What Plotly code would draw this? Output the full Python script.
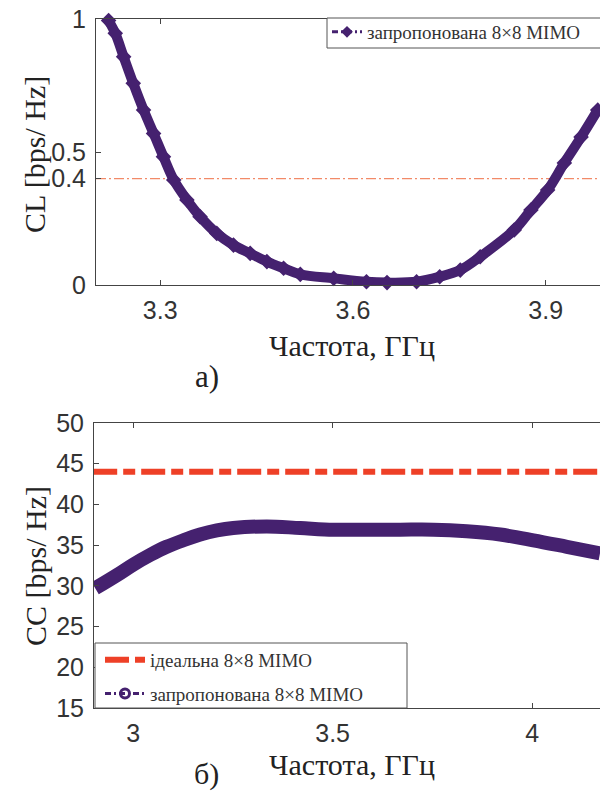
import plotly.graph_objects as go

# ---------------- data: panel а) CL ----------------
freq_cl = [3.2196, 3.230, 3.243, 3.258, 3.274, 3.2896, 3.305, 3.321, 3.3415, 3.362,
           3.388, 3.414, 3.440, 3.466, 3.492, 3.518, 3.570, 3.621, 3.653, 3.699,
           3.735, 3.767, 3.798, 3.851, 3.877, 3.903, 3.929, 3.955, 3.981]
cl_values = [0.994, 0.946, 0.858, 0.758, 0.658, 0.570, 0.482, 0.395, 0.320, 0.257,
             0.194, 0.150, 0.119, 0.088, 0.063, 0.040, 0.025, 0.012, 0.009, 0.012,
             0.031, 0.056, 0.106, 0.207, 0.282, 0.357, 0.459, 0.556, 0.658]
cl_threshold = 0.4
cl_xticks = [3.3, 3.6, 3.9]
cl_yticks = [0, 0.4, 0.5, 1]

# ---------------- data: panel б) CC ----------------
freq_cc = [2.905, 2.959, 3.0, 3.043, 3.084, 3.126, 3.168, 3.210, 3.251, 3.335,
           3.419, 3.502, 3.586, 3.669, 3.753, 3.836, 3.920, 4.003, 4.087, 4.170]
cc_values = [29.7, 31.3, 32.6, 33.8, 34.8, 35.6, 36.3, 36.8, 37.1, 37.3,
             37.1, 36.9, 36.9, 36.9, 36.9, 36.7, 36.3, 35.6, 34.8, 34.0]
ideal_freq = [2.90, 4.20]
ideal_cc = [44, 44]
cc_xticks = [3, 3.5, 4]
cc_yticks = [15, 20, 25, 30, 35, 40, 45, 50]

label_ideal = "ідеальна 8×8 MIMO"
label_prop = "запропонована 8×8 MIMO"

PURPLE = "#45216f"
RED = "#ee4027"
ORANGE = "#f28a68"
AXC = "#444444"
SERIF = "Liberation Serif, Times New Roman, serif"
SANS = "Liberation Sans, Arial, sans-serif"

W, H = 600, 793
def py(px):
    return 1 - px / H

fig = go.Figure()

# panel а)
fig.add_trace(go.Scatter(
    x=freq_cl, y=cl_values, mode="lines+markers", xaxis="x", yaxis="y",
    line=dict(color=PURPLE, width=10, shape="spline"),
    marker=dict(symbol="diamond", size=12, color=PURPLE),
    cliponaxis=False, showlegend=False))
fig.add_trace(go.Scatter(
    x=[None], y=[None], mode="lines+markers", xaxis="x", yaxis="y",
    name=label_prop, legend="legend",
    line=dict(color=PURPLE, width=3, dash="6px,3px,2px,3px"),
    marker=dict(symbol="diamond", size=9, color=PURPLE)))

# panel б)
fig.add_trace(go.Scatter(
    x=ideal_freq, y=ideal_cc, mode="lines", xaxis="x2", yaxis="y2",
    line=dict(color=RED, width=6, dash="24px,6px,12px,6px"),
    name=label_ideal, legend="legend2", legendgroup="a"))
fig.add_trace(go.Scatter(
    x=freq_cc, y=cc_values, mode="lines", xaxis="x2", yaxis="y2",
    line=dict(color=PURPLE, width=14, shape="spline"),
    showlegend=False))
fig.add_trace(go.Scatter(
    x=[None], y=[None], mode="lines+markers", xaxis="x2", yaxis="y2",
    name=label_prop, legend="legend2", legendgroup="b",
    line=dict(color=PURPLE, width=3, dash="6px,3px,2px,3px"),
    marker=dict(symbol="circle-open", size=9, color=PURPLE, line=dict(width=3))))

fig.add_hline(y=cl_threshold, xref="x", yref="y", layer="below",
              line=dict(color=ORANGE, width=1.3, dash="10px,3px,2px,3px"))

# legend frames (boxes as in the reference)
fig.add_shape(type="rect", xref="paper", yref="paper",
              x0=327 / W, x1=602 / W, y0=py(48), y1=py(18), layer="above",
              line=dict(color="#555555", width=1), fillcolor="white")
fig.add_shape(type="rect", xref="paper", yref="paper",
              x0=95 / W, x1=407 / W, y0=py(708), y1=py(643), layer="above",
              line=dict(color="#555555", width=1), fillcolor="white")

axis_common = dict(showline=True, linecolor=AXC, linewidth=1, ticks="inside",
                   ticklen=5, tickcolor=AXC, showgrid=False, zeroline=False,
                   automargin=False,
                   tickfont=dict(family=SANS, size=25, color="#333333"))

fig.update_layout(
    template="none",
    width=W, height=H, margin=dict(l=0, r=0, t=0, b=0, pad=0), autosize=False,
    paper_bgcolor="white", plot_bgcolor="white",
    xaxis=dict(domain=[96 / W, 1.0], range=[3.2, 3.9845], tickvals=cl_xticks,
               ticktext=["3.3", "3.6", "3.9"], mirror="ticks", anchor="y",
               ticklabelstandoff=3, **axis_common),
    yaxis=dict(domain=[py(285), py(19)], range=[0, 1], tickvals=cl_yticks,
               ticktext=["0", "0.4", "0.5", "1"], anchor="x", mirror=False,
               ticklabelstandoff=4, **axis_common),
    xaxis2=dict(domain=[94 / W, 1.0], range=[2.902, 4.17], tickvals=cc_xticks,
                ticktext=["3", "3.5", "4"], mirror="ticks", anchor="y2",
                ticklabelstandoff=3, **axis_common),
    yaxis2=dict(domain=[py(708), py(423)], range=[15, 50], tickvals=cc_yticks,
                anchor="x2", mirror=False, ticklabelstandoff=4, **axis_common),
    legend=dict(x=327 / W, y=py(32), xanchor="left", yanchor="middle",
                bgcolor="rgba(0,0,0,0)", borderwidth=0,
                font=dict(family=SERIF, size=19, color="#333333"),
                itemwidth=30),
    legend2=dict(x=100 / W, y=py(677), xanchor="left", yanchor="middle",
                 bgcolor="rgba(0,0,0,0)", borderwidth=0,
                 font=dict(family=SERIF, size=19, color="#333333"),
                 itemwidth=40, tracegroupgap=6),
    showlegend=True,
)

ann_font = dict(family=SERIF, size=30, color="#222222")
def ann(text, xpx, ypx, angle=0, size=None):
    f = dict(ann_font)
    if size:
        f["size"] = size
    fig.add_annotation(text=text, xref="paper", yref="paper", x=xpx / W, y=py(ypx),
                       xanchor="center", yanchor="middle", textangle=angle,
                       showarrow=False, font=f)

ann("CL [bps/ Hz]", 35, 155, angle=-90)
ann("Частота, ГГц", 352, 345)
ann("а)", 207, 376, size=31)
ann("CC [bps/ Hz]", 35, 566, angle=-90)
ann("Частота, ГГц", 352, 764)
ann("б)", 207, 774, size=30)

fig.write_html("out.html")
